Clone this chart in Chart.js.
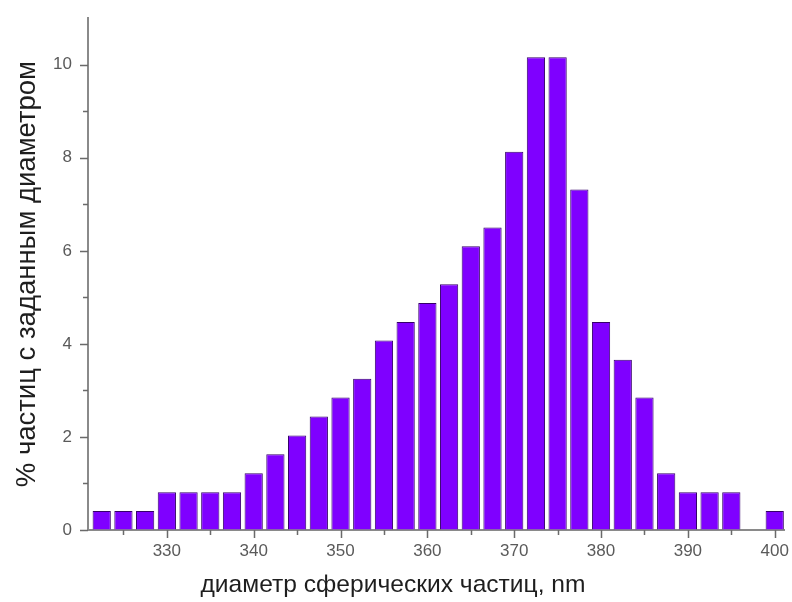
<!DOCTYPE html>
<html>
<head>
<meta charset="utf-8">
<script src="https://cdn.jsdelivr.net/npm/chart.js@4/dist/chart.umd.min.js"></script>
<style>
  html, body { margin: 0; padding: 0; background: #ffffff; }
  #wrap { width: 792px; height: 602px; }
</style>
</head>
<body>
<div id="wrap"><canvas id="c" width="792" height="602"></canvas></div>
<script>
// Particle diameter bins (nm, bin centres)
const binCenters = [322.5, 325, 327.5, 330, 332.5, 335, 337.5, 340, 342.5, 345, 347.5,
  350, 352.5, 355, 357.5, 360, 362.5, 365, 367.5, 370, 372.5, 375, 377.5, 380, 382.5,
  385, 387.5, 390, 392.5, 395, 397.5, 400];
// Share of particles in each bin, %
const percentValues = [0.41, 0.41, 0.41, 0.81, 0.81, 0.81, 0.81, 1.22, 1.63, 2.03, 2.44,
  2.85, 3.25, 4.07, 4.47, 4.88, 5.28, 6.10, 6.50, 8.13, 10.16, 10.16, 7.32, 4.47, 3.66,
  2.85, 1.22, 0.81, 0.81, 0.81, 0, 0.41];

const xTickValues = [330, 340, 350, 360, 370, 380, 390, 400];
const xMinorTickValues = [325, 335, 345, 355, 365, 375, 385, 395];
const yTickValues = [0, 2, 4, 6, 8, 10];
const yMinorTickValues = [1, 3, 5, 7, 9];

const xTitle = 'диаметр сферических частиц, nm';
const yTitle = '% частиц с заданным диаметром';

const FONT = '"Liberation Sans", Arial, sans-serif';
const AXIS_COLOR = '#8a8a8a';
const TICK_COLOR = '#6a6a6a';

// outward tick marks: long at labelled values, short in between
const tickMarks = {
  id: 'tickMarks',
  afterDraw(chart) {
    const ctx = chart.ctx;
    const xs = chart.scales.x, ys = chart.scales.y;
    ctx.save();
    ctx.strokeStyle = TICK_COLOR;
    ctx.lineWidth = 1.5;
    ctx.beginPath();
    const xMark = (v, len) => {
      const px = Math.round(xs.getPixelForValue(v)) + 0.5;
      ctx.moveTo(px, xs.top);
      ctx.lineTo(px, xs.top + len);
    };
    const yMark = (v, len) => {
      const py = Math.round(ys.getPixelForValue(v)) + 0.5;
      ctx.moveTo(ys.right - len, py);
      ctx.lineTo(ys.right, py);
    };
    xTickValues.forEach(v => xMark(v, 8));
    xMinorTickValues.forEach(v => xMark(v, 5));
    yTickValues.forEach(v => yMark(v, 8));
    yMinorTickValues.forEach(v => yMark(v, 5));
    ctx.stroke();
    ctx.restore();
  }
};

new Chart(document.getElementById('c'), {
  type: 'bar',
  data: {
    datasets: [{
      data: binCenters.map((x, i) => ({ x: x, y: percentValues[i] })),
      backgroundColor: '#7f00ff',
      borderColor: '#35006a',
      borderWidth: 1,
      barPercentage: 0.84,
      categoryPercentage: 1.0
    }]
  },
  options: {
    responsive: false,
    animation: false,
    devicePixelRatio: 1,
    layout: { padding: { top: 16, right: 6, left: 0, bottom: 0 } },
    plugins: {
      legend: { display: false },
      tooltip: { enabled: false },
      title: {
        display: true,
        position: 'bottom',
        text: xTitle,
        color: '#1e1e1e',
        font: { family: FONT, size: 24.6, weight: 'normal' },
        padding: { top: 0, bottom: 2 }
      }
    },
    scales: {
      x: {
        type: 'linear',
        offset: false,
        min: 320.92,
        max: 401.15,
        afterBuildTicks: s => { s.ticks = xTickValues.map(v => ({ value: v })); },
        afterFit: s => { s.height = 72 - 31.5; },
        grid: { offset: false, drawOnChartArea: false, drawTicks: true, tickLength: 8, tickColor: 'rgba(0,0,0,0)' },
        border: { display: true, color: AXIS_COLOR, width: 2 },
        ticks: { color: '#5a5a5a', font: { family: FONT, size: 17 }, padding: 3, maxRotation: 0 }
      },
      y: {
        min: 0,
        max: 11,
        afterBuildTicks: s => { s.ticks = yTickValues.map(v => ({ value: v })); },
        afterFit: s => { s.width = 88; },
        grid: { offset: false, drawOnChartArea: false, drawTicks: true, tickLength: 8, tickColor: 'rgba(0,0,0,0)' },
        border: { display: true, color: AXIS_COLOR, width: 2 },
        ticks: { color: '#5a5a5a', font: { family: FONT, size: 17 }, padding: 8 },
        title: {
          display: true, text: yTitle, color: '#1e1e1e',
          font: { family: FONT, size: 27.5 }, padding: { top: 11, bottom: 0 }
        }
      }
    }
  },
  plugins: [tickMarks]
});
</script>
</body>
</html>
